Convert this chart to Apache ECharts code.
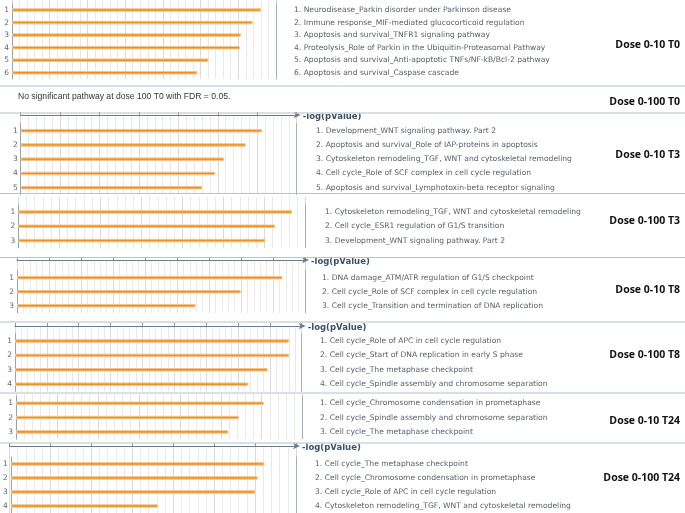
<!DOCTYPE html>
<html>
<head>
<meta charset="utf-8">
<script src="https://cdn.jsdelivr.net/npm/echarts@6/dist/echarts.min.js"></script>
<style>
html,body{margin:0;padding:0;background:#fff;}
#chart{width:685px;height:513px;}
</style>
</head>
<body>
<div id="chart"></div>
<script>
// ---------------- DATA ----------------
const panelTitles = ['Dose 0-10 T0', 'Dose 0-100 T0', 'Dose 0-10 T3', 'Dose 0-100 T3',
  'Dose 0-10 T8', 'Dose 0-100 T8', 'Dose 0-10 T24', 'Dose 0-100 T24'];
const noSignificantText = 'No significant pathway at dose 100 T0 with FDR = 0.05.';
const axisName = '-log(pValue)';

const pathways_10_T0 = [
  'Neurodisease_Parkin disorder under Parkinson disease',
  'Immune response_MIF-mediated glucocorticoid regulation',
  'Apoptosis and survival_TNFR1 signaling pathway',
  'Proteolysis_Role of Parkin in the Ubiquitin-Proteasomal Pathway',
  'Apoptosis and survival_Anti-apoptotic TNFs/NF-kB/Bcl-2 pathway',
  'Apoptosis and survival_Caspase cascade'];
const values_10_T0 = [6.6, 6.38, 6.07, 6.05, 5.21, 4.91];

const pathways_10_T3 = [
  'Development_WNT signaling pathway. Part 2',
  'Apoptosis and survival_Role of IAP-proteins in apoptosis',
  'Cytoskeleton remodeling_TGF, WNT and cytoskeletal remodeling',
  'Cell cycle_Role of SCF complex in cell cycle regulation',
  'Apoptosis and survival_Lymphotoxin-beta receptor signaling'];
const values_10_T3 = [6.12, 5.71, 5.16, 4.93, 4.60];

const pathways_100_T3 = [
  'Cytoskeleton remodeling_TGF, WNT and cytoskeletal remodeling',
  'Cell cycle_ESR1 regulation of G1/S transition',
  'Development_WNT signaling pathway. Part 2'];
const values_100_T3 = [6.67, 6.26, 6.02];

const pathways_10_T8 = [
  'DNA damage_ATM/ATR regulation of G1/S checkpoint',
  'Cell cycle_Role of SCF complex in cell cycle regulation',
  'Cell cycle_Transition and termination of DNA replication'];
const values_10_T8 = [8.29, 6.99, 5.58];

const pathways_100_T8 = [
  'Cell cycle_Role of APC in cell cycle regulation',
  'Cell cycle_Start of DNA replication in early S phase',
  'Cell cycle_The metaphase checkpoint',
  'Cell cycle_Spindle assembly and chromosome separation'];
const values_100_T8 = [8.6, 8.6, 7.93, 7.32];

const pathways_10_T24 = [
  'Cell cycle_Chromosome condensation in prometaphase',
  'Cell cycle_Spindle assembly and chromosome separation',
  'Cell cycle_The metaphase checkpoint'];
const values_10_T24 = [6.05, 5.44, 5.18];

const pathways_100_T24 = [
  'Cell cycle_The metaphase checkpoint',
  'Cell cycle_Chromosome condensation in prometaphase',
  'Cell cycle_Role of APC in cell cycle regulation',
  'Cytoskeleton remodeling_TGF, WNT and cytoskeletal remodeling'];
const values_100_T24 = [6.22, 6.06, 6.0, 3.61];

const axisMax = [7, 7, 7, 9, 9, 7, 7]; // -log(pValue) axis extent for each chart panel

// ---------------- LAYOUT ----------------
const panels = [
  {names: pathways_10_T0,  values: values_10_T0,  max: axisMax[0]},
  {names: pathways_10_T3,  values: values_10_T3,  max: axisMax[1]},
  {names: pathways_100_T3, values: values_100_T3, max: axisMax[2]},
  {names: pathways_10_T8,  values: values_10_T8,  max: axisMax[3]},
  {names: pathways_100_T8, values: values_100_T8, max: axisMax[4]},
  {names: pathways_10_T24, values: values_10_T24, max: axisMax[5]},
  {names: pathways_100_T24,values: values_100_T24,max: axisMax[6]}
];
const layout = [
  {ay: -3,  show: false, r1: 10,    rs: 12.55, x0: 12,   sep: 276,   tx: 294, border: 86},
  {ay: 115, show: true,  r1: 130.7, rs: 14.25, x0: 20.7, sep: 296.7, tx: 316, border: 113},
  {ay: 197, show: false, r1: 212,   rs: 14.3,  x0: 18.3, sep: 305.5, tx: 325, border: 193.5},
  {ay: 260, show: true,  r1: 277.7, rs: 14,    x0: 17,   sep: 305,   tx: 322, border: 257.5},
  {ay: 326, show: true,  r1: 341,   rs: 14.4,  x0: 15,   sep: 301.7, tx: 320, border: 322},
  {ay: 394, show: false, r1: 403.3, rs: 14.3,  x0: 16,   sep: 302.7, tx: 320, border: 393},
  {ay: 446, show: true,  r1: 464,   rs: 14.2,  x0: 9.5,  sep: 296,   tx: 315, border: 443}
];
const bottomBorders = [86, 113, 193.5, 257.5, 322, 393, 443];
const titleY = [45, 102, 155, 221, 290, 355, 421, 478];

const chart = echarts.init(document.getElementById('chart'), null, {renderer: 'canvas'});
const grid = [], xAxis = [], yAxis = [], series = [], graphic = [];

panels.forEach((p, i) => {
  const L = layout[i];
  const n = p.values.length;
  const catTop = L.r1 - L.rs / 2;
  const catH = n * L.rs;
  const nextBorder = i + 1 < bottomBorders.length ? bottomBorders[i + 1] : 513;
  const backBottom = Math.min(nextBorder, catTop + catH);

  // background grid: top axis + vertical grid lines
  const gb = grid.length;
  grid.push({left: L.x0, top: L.ay, width: L.sep - L.x0, height: backBottom - L.ay});
  xAxis.push({
    gridIndex: gb, type: 'value', position: 'top', min: 0, max: p.max, interval: 1,
    axisLine: {show: L.show, onZero: false, symbol: ['none', 'arrow'], symbolSize: [5, 7], symbolOffset: [0, 4],
      lineStyle: {color: '#6f7d8a', width: 1}},
    axisTick: {show: L.show, length: 3, lineStyle: {color: '#8a96a0'}},
    axisLabel: {show: false},
    splitLine: {show: true, lineStyle: {color: '#dadada', width: 1}},
    minorTick: {show: false, splitNumber: 5},
    minorSplitLine: {show: true, lineStyle: {color: '#e9e9e9', width: 1}},
    name: L.show ? axisName : '', nameLocation: 'end', nameGap: 6,
    nameTextStyle: {fontFamily: 'DejaVu Sans', fontWeight: 'bold', fontSize: 8.5, color: '#3d5166',
      align: 'left', verticalAlign: 'top', padding: [-3, 0, 0, 0]}
  });
  yAxis.push({gridIndex: gb, type: 'value', min: 0, max: 1, show: false});

  // bar grid
  const gc = grid.length;
  grid.push({left: L.x0, top: catTop, width: L.sep - L.x0, height: catH});
  const xi = xAxis.length;
  xAxis.push({gridIndex: gc, type: 'value', min: 0, max: p.max, show: false});
  const yl = yAxis.length;
  yAxis.push({
    gridIndex: gc, type: 'category', inverse: true, position: 'left',
    data: p.values.map((_, k) => String(k + 1)),
    axisLine: {onZero: false, lineStyle: {color: '#9aa3aa'}},
    axisTick: {length: 3, lineStyle: {color: '#9aa3aa'}},
    axisLabel: {fontFamily: 'DejaVu Sans', fontSize: 7.5, color: '#666', margin: 3}
  });
  yAxis.push({
    gridIndex: gc, type: 'category', inverse: true, position: 'right',
    data: p.names,
    axisLine: {onZero: false, lineStyle: {color: '#a5adb3'}},
    axisTick: {inside: true, length: 3, lineStyle: {color: '#a5adb3'}},
    axisLabel: {fontFamily: 'DejaVu Sans', fontSize: 7.6, color: '#5b6067', align: 'left',
      margin: L.tx - L.sep, formatter: (v, idx) => (idx + 1) + '. ' + v}
  });
  series.push({
    type: 'bar', xAxisIndex: xi, yAxisIndex: yl, data: p.values, barWidth: 3.5, silent: true,
    itemStyle: {color: '#ec9022', borderColor: '#f6c488', borderWidth: 1}
  });

  // clip the top of the axis name like the reference
  if (L.show) {
    graphic.push({type: 'rect', z: 100, shape: {x: L.sep + 2, y: L.border - 4, width: 100, height: 4.5},
      style: {fill: '#ffffff'}});
  }
});

// panel borders
bottomBorders.forEach(y => {
  graphic.push({type: 'line', z: 101, shape: {x1: 0, y1: y, x2: 685, y2: y},
    style: {stroke: '#b3c3cf', lineWidth: 1}});
});

// titles
panelTitles.forEach((t, i) => {
  graphic.push({type: 'text', z: 102, x: 680, y: titleY[i],
    style: {text: t, fill: '#111', font: 'bold 10.5px "Open Sans"', textAlign: 'right', textVerticalAlign: 'middle'}});
});
graphic.push({type: 'text', z: 102, x: 18, y: 97,
  style: {text: noSignificantText, fill: '#333', font: '8.6px "Liberation Sans"', textAlign: 'left', textVerticalAlign: 'middle'}});

chart.setOption({
  animation: false,
  backgroundColor: '#ffffff',
  grid, xAxis, yAxis, series, graphic
});
</script>
</body>
</html>
